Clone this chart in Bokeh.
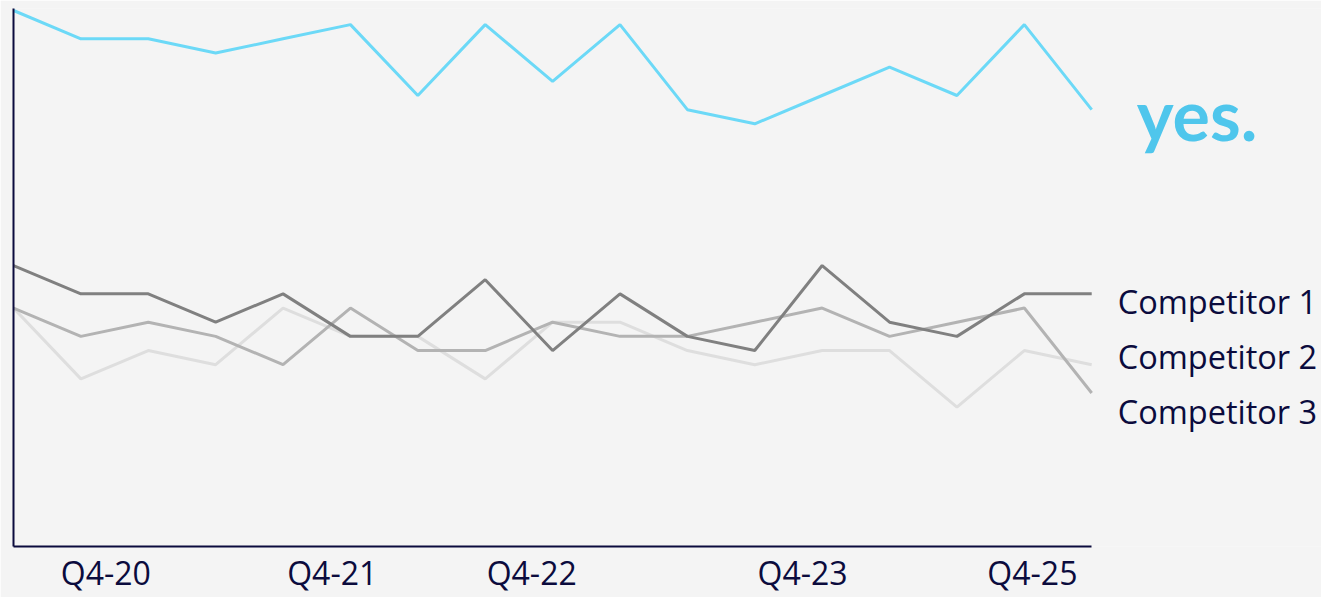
from bokeh.plotting import figure
from bokeh.models import Range1d, FixedTicker, Label
from bokeh.embed import file_html
from bokeh.resources import INLINE

# ---------------- data ----------------
periods = list(range(17))
yes_values = [38, 36, 36, 35, 36, 37, 32, 37, 33, 37, 31, 30, 32, 34, 32, 37, 31]
competitor_1 = [20, 18, 18, 16, 18, 15, 15, 19, 14, 18, 15, 14, 20, 16, 15, 18, 18]
competitor_2 = [17, 12, 14, 13, 17, 15, 15, 12, 16, 16, 14, 13, 14, 14, 10, 14, 13]
competitor_3 = [17, 15, 16, 15, 13, 17, 14, 14, 16, 15, 15, 16, 17, 15, 16, 17, 11]
tick_labels = ["Q4-20", "Q4-21", "Q4-22", "Q4-23", "Q4-25"]
series_names = ["Competitor 1", "Competitor 2", "Competitor 3"]
brand_name = "yes."

# ---------------- layout / style ----------------
tick_positions = [1.37, 4.73, 7.69, 11.71, 15.12]
label_y = [17.46, 13.58, 9.70]
BG = "#f4f4f4"
NAVY = "#0b0b3d"
FONT = "Open Sans"

p = figure(width=1321, height=597, output_backend="svg", toolbar_location=None,
           x_range=Range1d(0, 19.41), y_range=Range1d(0.17, 38.14),
           min_border_left=13, min_border_right=0, min_border_top=8, min_border_bottom=51)
p.background_fill_color = BG
p.border_fill_color = BG
p.outline_line_color = None
p.grid.visible = False

# axes
p.yaxis.ticker = FixedTicker(ticks=[])
p.yaxis.major_tick_line_color = None
p.yaxis.minor_tick_line_color = None
p.yaxis.major_label_text_font_size = "0px"
p.yaxis.axis_line_color = NAVY
p.yaxis.axis_line_width = 2

p.xaxis.bounds = (0, 16)
p.xaxis.ticker = FixedTicker(ticks=tick_positions)
p.xaxis.major_label_overrides = {t: l for t, l in zip(tick_positions, tick_labels)}
p.xaxis.major_tick_line_color = None
p.xaxis.minor_tick_line_color = None
p.xaxis.major_tick_out = 0
p.xaxis.major_tick_in = 0
p.xaxis.axis_line_color = NAVY
p.xaxis.axis_line_width = 2
p.xaxis.major_label_text_font = FONT
p.xaxis.major_label_text_font_size = "32px"
p.xaxis.major_label_text_color = NAVY
p.xaxis.major_label_standoff = 4

# lines
p.line(periods, competitor_2, line_color="#dedede", line_width=3)
p.line(periods, competitor_3, line_color="#b3b3b3", line_width=3)
p.line(periods, competitor_1, line_color="#808080", line_width=3)
p.line(periods, yes_values, line_color="#6cd9f7", line_width=3)

# series labels
for name, ly in zip(series_names, label_y):
    p.add_layout(Label(x=16, y=ly, x_offset=26, text=name, text_font=FONT,
                       text_font_size="32.5px", text_color=NAVY,
                       text_align="left", text_baseline="middle"))

# brand logo text
p.add_layout(Label(x=16, y=30.7, x_offset=45, text=brand_name, text_font="Lato",
                   text_font_style="bold", text_font_size="70px", text_color="#4fc6ec",
                   text_align="left", text_baseline="alphabetic"))

open("out.html", "w").write(file_html(p, INLINE))
